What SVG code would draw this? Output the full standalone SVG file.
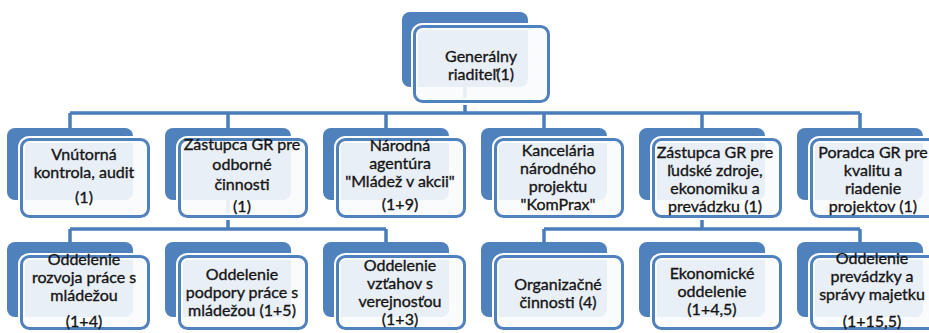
<svg xmlns="http://www.w3.org/2000/svg" width="929" height="333" viewBox="0 0 929 333">
<style>
.back{fill:#4F81BD}
.halo{fill:none;stroke:#fff;stroke-width:7}
.front{fill:#FAFBFD;fill-opacity:.9;stroke:#4F81BD;stroke-width:3}
.conn{fill:none;stroke:#4A7EBB;stroke-width:3.5}
text{font-family:Lato,"Liberation Sans",sans-serif;font-size:16px;fill:#151515;stroke:#151515;stroke-width:0.35;text-anchor:middle}
</style>
<rect width="929" height="333" fill="#fff"/>
<g id="connectors">
<path class="conn" d="M465 87V113M70 113H860M70 113V128M228 113V128M386 113V128M544 113V128M702 113V128M860 113V128"/>
<path class="conn" d="M228 200V229M70 229H386M70 229V242M386 229V242"/>
<path class="conn" d="M702 200V229M544 229H860M544 229V242M860 229V242"/>
</g>
<g id="n-gr">
<rect class="back" x="402" y="12" width="126" height="75" rx="8"/>
<rect class="halo" x="414.5" y="26.5" width="134" height="75" rx="8"/>
<rect class="front" x="414.5" y="26.5" width="134" height="75" rx="8"/>
<text x="481" y="62">Generálny</text>
<text x="481" y="80">riaditeľ(1)</text>
</g>
<g id="n-vk">
<rect class="back" x="7" y="128" width="126" height="72" rx="8"/>
<rect class="halo" x="21.5" y="139.5" width="127" height="77" rx="8"/>
<rect class="front" x="21.5" y="139.5" width="127" height="77" rx="8"/>
<text x="84" y="160">Vnútorná</text>
<text x="84" y="178">kontrola, audit</text>
<text x="84" y="203">(1)</text>
</g>
<g id="n-zgr1">
<rect class="back" x="165" y="128" width="126" height="72" rx="8"/>
<rect class="halo" x="179.5" y="139.5" width="127" height="77" rx="8"/>
<rect class="front" x="179.5" y="139.5" width="127" height="77" rx="8"/>
<text x="242" y="150">Zástupca GR pre</text>
<text x="242" y="170">odborné</text>
<text x="242" y="190">činnosti</text>
<text x="242" y="212">(1)</text>
</g>
<g id="n-na">
<rect class="back" x="323" y="128" width="126" height="72" rx="8"/>
<rect class="halo" x="337.5" y="139.5" width="127" height="77" rx="8"/>
<rect class="front" x="337.5" y="139.5" width="127" height="77" rx="8"/>
<text x="400" y="151">Národná</text>
<text x="400" y="169">agentúra</text>
<text x="400" y="187">"Mládež v akcii"</text>
<text x="400" y="210">(1+9)</text>
</g>
<g id="n-knp">
<rect class="back" x="481" y="128" width="126" height="72" rx="8"/>
<rect class="halo" x="495.5" y="139.5" width="127" height="77" rx="8"/>
<rect class="front" x="495.5" y="139.5" width="127" height="77" rx="8"/>
<text x="558" y="156">Kancelária</text>
<text x="558" y="174">národného</text>
<text x="558" y="192">projektu</text>
<text x="558" y="210">"KomPrax"</text>
</g>
<g id="n-zgr2">
<rect class="back" x="639" y="128" width="126" height="72" rx="8"/>
<rect class="halo" x="653.5" y="139.5" width="127" height="77" rx="8"/>
<rect class="front" x="653.5" y="139.5" width="127" height="77" rx="8"/>
<text x="715" y="158">Zástupca GR pre</text>
<text x="715" y="176">ľudské zdroje,</text>
<text x="715" y="194">ekonomiku a</text>
<text x="715" y="212">prevádzku (1)</text>
</g>
<g id="n-pgr">
<rect class="back" x="797" y="128" width="126" height="72" rx="8"/>
<rect class="halo" x="811.5" y="139.5" width="127" height="77" rx="8"/>
<rect class="front" x="811.5" y="139.5" width="127" height="77" rx="8"/>
<text x="873" y="158">Poradca GR pre</text>
<text x="873" y="176">kvalitu a</text>
<text x="873" y="194">riadenie</text>
<text x="873" y="212">projektov (1)</text>
</g>
<g id="n-orpm">
<rect class="back" x="7" y="242" width="126" height="75" rx="8"/>
<rect class="halo" x="21.5" y="256.5" width="127" height="72" rx="8"/>
<rect class="front" x="21.5" y="256.5" width="127" height="72" rx="8"/>
<text x="84" y="265">Oddelenie</text>
<text x="84" y="283">rozvoja práce s</text>
<text x="84" y="301">mládežou</text>
<text x="84" y="327">(1+4)</text>
</g>
<g id="n-oppm">
<rect class="back" x="165" y="242" width="126" height="75" rx="8"/>
<rect class="halo" x="179.5" y="256.5" width="127" height="72" rx="8"/>
<rect class="front" x="179.5" y="256.5" width="127" height="72" rx="8"/>
<text x="242" y="280">Oddelenie</text>
<text x="242" y="298">podpory práce s</text>
<text x="242" y="316">mládežou (1+5)</text>
</g>
<g id="n-ovv">
<rect class="back" x="323" y="242" width="126" height="75" rx="8"/>
<rect class="halo" x="337.5" y="256.5" width="127" height="72" rx="8"/>
<rect class="front" x="337.5" y="256.5" width="127" height="72" rx="8"/>
<text x="400" y="271">Oddelenie</text>
<text x="400" y="289">vzťahov s</text>
<text x="400" y="307">verejnosťou</text>
<text x="400" y="325">(1+3)</text>
</g>
<g id="n-oc">
<rect class="back" x="481" y="242" width="126" height="75" rx="8"/>
<rect class="halo" x="495.5" y="256.5" width="127" height="72" rx="8"/>
<rect class="front" x="495.5" y="256.5" width="127" height="72" rx="8"/>
<text x="558" y="290">Organizačné</text>
<text x="558" y="308">činnosti (4)</text>
</g>
<g id="n-eo">
<rect class="back" x="639" y="242" width="126" height="75" rx="8"/>
<rect class="halo" x="653.5" y="256.5" width="127" height="72" rx="8"/>
<rect class="front" x="653.5" y="256.5" width="127" height="72" rx="8"/>
<text x="712" y="279">Ekonomické</text>
<text x="712" y="297">oddelenie</text>
<text x="712" y="315">(1+4,5)</text>
</g>
<g id="n-opsm">
<rect class="back" x="797" y="242" width="126" height="75" rx="8"/>
<rect class="halo" x="811.5" y="256.5" width="127" height="72" rx="8"/>
<rect class="front" x="811.5" y="256.5" width="127" height="72" rx="8"/>
<text x="872" y="264">Oddelenie</text>
<text x="872" y="282">prevádzky a</text>
<text x="872" y="300">správy majetku</text>
<text x="872" y="327">(1+15,5)</text>
</g>
</svg>
